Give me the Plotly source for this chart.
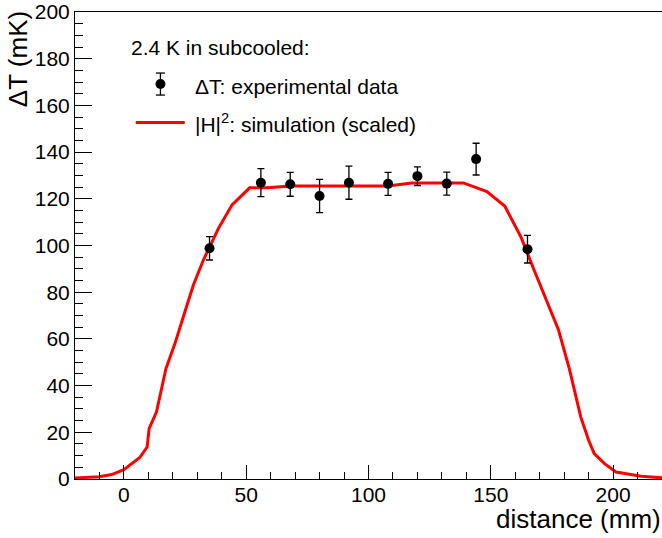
import plotly.graph_objects as go

# Experimental data
exp_x = [35, 56, 68, 80, 92, 108, 120, 132, 144, 165]
exp_y = [98.8, 126.9, 126.2, 121.2, 126.9, 126.4, 129.7, 126.5, 137.0, 98.4]
exp_err = [5.0, 6.0, 5.1, 7.1, 7.1, 4.9, 4.0, 4.9, 6.8, 5.9]

# Simulation (scaled)
sim_x = [-20, -10, -5, 0, 6.5, 9.5, 10.3, 13.3, 17.2, 20.9, 24.3, 28.4, 32.5, 38.7,
         44.2, 51.4, 58.6, 68.2, 108, 117.6, 138.8, 148.4, 155.7, 162.4, 167.7,
         172.4, 177.7, 182.1, 186.8, 190, 192.3, 196.5, 201.2, 211.5, 221]
sim_y = [0.4, 1.0, 1.9, 4.0, 9.2, 13.7, 21.6, 28.7, 47.3, 58.1, 69.5, 83.1, 93.8, 107.4,
         117.4, 124.7, 124.7, 125.5, 125.5, 126.8, 126.8, 123.1, 116.9, 103.5, 89.5,
         77.4, 63.8, 47.3, 26.5, 16.6, 10.9, 6.6, 3.0, 1.2, 0.4]

legend_header = "2.4 K in subcooled:"
legend_exp = "ΔT: experimental data"
legend_sim = "|H|<sup>2</sup>: simulation (scaled)"

FONT = "Liberation Sans, Arial, Helvetica, sans-serif"

W, H = 662, 538
PL, PR, PT, PB = 75.3, 662.0, 12.0, 478.7   # plot area in pixels


def px(xp):
    return (xp - PL) / (PR - PL)


def py(yp):
    return (PB - yp) / (PB - PT)


fig = go.Figure()
fig.add_trace(go.Scatter(
    x=sim_x, y=sim_y, mode="lines",
    line=dict(color="#ff0000", width=3),
    showlegend=False,
))
fig.add_trace(go.Scatter(
    x=exp_x, y=exp_y, mode="markers",
    marker=dict(color="black", size=10),
    error_y=dict(type="data", array=exp_err, color="black", thickness=1.3, width=3.5),
    showlegend=False,
))

# Hand-drawn legend (ROOT TLegend style)
shapes = [
    dict(type="line", xref="paper", yref="paper",
         x0=px(136), x1=px(185), y0=py(122.5), y1=py(122.5),
         line=dict(color="#ff0000", width=3)),
    dict(type="line", xref="paper", yref="paper",
         x0=px(160.7), x1=px(160.7), y0=py(73), y1=py(95),
         line=dict(color="black", width=1.3)),
    dict(type="line", xref="paper", yref="paper",
         x0=px(156.2), x1=px(165.2), y0=py(73), y1=py(73),
         line=dict(color="black", width=1.3)),
    dict(type="line", xref="paper", yref="paper",
         x0=px(156.2), x1=px(165.2), y0=py(95), y1=py(95),
         line=dict(color="black", width=1.3)),
    dict(type="circle", xref="paper", yref="paper",
         x0=px(155.7), x1=px(165.7), y0=py(79), y1=py(89),
         fillcolor="black", line=dict(color="black", width=0)),
]

annotations = [
    dict(text=legend_header, xref="paper", yref="paper", x=px(129.5), y=py(47.5),
         xanchor="left", yanchor="middle", showarrow=False, font=dict(size=21)),
    dict(text=legend_exp, xref="paper", yref="paper", x=px(193.5), y=py(86.5),
         xanchor="left", yanchor="middle", showarrow=False, font=dict(size=21)),
    dict(text=legend_sim, xref="paper", yref="paper", x=px(193), y=py(122.5),
         xanchor="left", yanchor="middle", showarrow=False, font=dict(size=21)),
    dict(text="distance (mm)", xref="paper", yref="paper", x=1.0, y=py(518.5),
         xanchor="right", yanchor="middle", showarrow=False, borderpad=0,
         font=dict(size=26)),
    dict(text="ΔT (mK)", xref="paper", yref="paper", x=px(18.5), y=py(9),
         xanchor="center", yanchor="top", textangle=-90, showarrow=False,
         font=dict(size=26)),
]

fig.update_layout(
    width=W, height=H,
    margin=dict(l=PL, r=W - PR, t=PT, b=H - PB, pad=0),
    paper_bgcolor="white", plot_bgcolor="white",
    font=dict(family=FONT, size=21, color="black"),
    showlegend=False,
    xaxis=dict(
        range=[-20, 220], showgrid=False, zeroline=False,
        showline=True, linecolor="black", linewidth=1, mirror=True,
        ticks="inside", ticklen=14, tickwidth=1, tickcolor="black",
        tick0=0, dtick=50, ticklabelstandoff=-3, ticklabeloverflow="allow",
        minor=dict(ticks="inside", ticklen=7, dtick=10, tickcolor="black", tickwidth=1),
        tickfont=dict(size=21),
    ),
    yaxis=dict(
        range=[0, 200], showgrid=False, zeroline=False,
        showline=True, linecolor="black", linewidth=1, mirror=True,
        ticks="inside", ticklen=17, tickwidth=1, tickcolor="black",
        tick0=0, dtick=20, ticklabeloverflow="allow",
        minor=dict(ticks="inside", ticklen=8, dtick=5, tickcolor="black", tickwidth=1),
        tickfont=dict(size=21),
    ),
    shapes=shapes,
    annotations=annotations,
)

fig.write_html(
    "out.html",
    config={"displayModeBar": False},
    post_script="document.body.style.margin='0';document.body.style.overflow='hidden';",
)
